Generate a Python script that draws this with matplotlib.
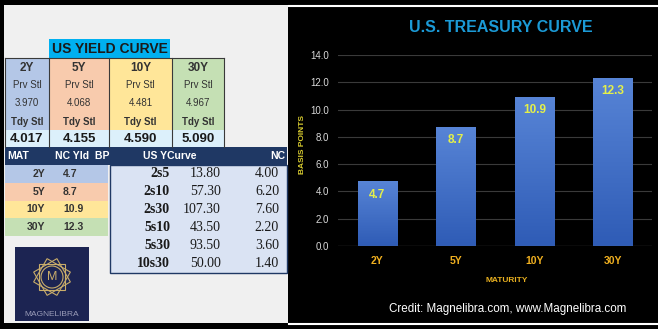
import numpy as np
import matplotlib
matplotlib.use('Agg')
import matplotlib.pyplot as plt
from matplotlib.patches import Rectangle, Polygon, Circle
from matplotlib.colors import LinearSegmentedColormap

# settlement yields and the derived net change (bp)
maturities = ['2Y', '5Y', '10Y', '30Y']
prv_stl = [3.970, 4.068, 4.481, 4.967]
tdy_stl = [4.017, 4.155, 4.590, 5.090]
nc_bp = [4.7, 8.7, 10.9, 12.3]

# curve spreads
spread_names = ['2s5', '2s10', '2s30', '5s10', '5s30', '10s30']
spread_vals = [13.80, 57.30, 107.30, 43.50, 93.50, 50.00]
spread_nc = [4.00, 6.20, 7.60, 2.20, 3.60, 1.40]

y_ticks = [0, 2, 4, 6, 8, 10, 12, 14]

mat_colors = ['#b4c7e7', '#f8cbad', '#ffe699', '#c5e0b4']
NAVY = '#1f3864'
SANS = 'Liberation Sans'
SERIF = 'Liberation Serif'
W, H = 658, 329

fig = plt.figure(figsize=(W / 100, H / 100), dpi=100, facecolor='black')

# full-figure axes in pixel units for the table side
bg = fig.add_axes([0, 0, 1, 1])
bg.set_xlim(0, W)
bg.set_ylim(H, 0)
bg.axis('off')

bg.add_patch(Rectangle((4, 5), 284, 318, facecolor='#f0f0f0', edgecolor='none'))
bg.plot([289, W], [5.5, 5.5], color='white', lw=1.5)
bg.plot([289, W], [323.5, 323.5], color='white', lw=1.5)

# --- upper table: settlements ---
col_edges = [5, 49, 109, 172, 224]
bg.add_patch(Rectangle((49, 39), 121, 19, facecolor='#00b0f0', edgecolor='none'))
bg.text(110, 49, 'US YIELD CURVE', ha='center', va='center', fontsize=10,
        fontweight='bold', family=SANS, color='#1a1a1a')

txt = '#333333'
for i, m in enumerate(maturities):
    x0, x1 = col_edges[i], col_edges[i + 1]
    cx = (x0 + x1) / 2
    bg.add_patch(Rectangle((x0, 58), x1 - x0, 72, facecolor=mat_colors[i], edgecolor='none'))
    bg.add_patch(Rectangle((x0, 130), x1 - x0, 17, facecolor='#dcf0fb', edgecolor='none'))
    bg.text(cx, 68, m, ha='center', va='center', fontsize=8.5, fontweight='bold', family=SANS, color=txt)
    bg.text(cx, 85, 'Prv Stl', ha='center', va='center', fontsize=7, family=SANS, color=txt)
    bg.text(cx, 103, f'{prv_stl[i]:.3f}', ha='center', va='center', fontsize=7, family=SANS, color=txt)
    bg.text(cx, 122, 'Tdy Stl', ha='center', va='center', fontsize=7, fontweight='bold', family=SANS, color=txt)
    bg.text(cx, 138.5, f'{tdy_stl[i]:.3f}', ha='center', va='center', fontsize=9.5, fontweight='bold',
            family=SANS, color='#1a1a1a')
for xe in col_edges:
    bg.plot([xe, xe], [58, 147], color='#3a3a3a', lw=0.8)
bg.plot([5, 224], [58, 58], color='#3a3a3a', lw=0.8)

# --- lower header bar ---
bg.add_patch(Rectangle((5, 147), 282, 18, facecolor=NAVY, edgecolor='none'))
hdr = dict(va='center', fontsize=7.5, fontweight='bold', family=SANS, color='white')
bg.text(7, 156, 'MAT', ha='left', **hdr)
bg.text(55, 156, 'NC Yld  BP', ha='left', **hdr)
bg.text(143, 156, 'US YCurve', ha='left', **hdr)
bg.text(285, 156, 'NC', ha='right', **hdr)

# net change per maturity
row_h = 17.75
for i, m in enumerate(maturities):
    y0 = 165 + i * row_h
    bg.add_patch(Rectangle((5, y0), 103, row_h, facecolor=mat_colors[i], edgecolor='none'))
    bg.text(45, y0 + row_h / 2, m, ha='right', va='center', fontsize=7.5, fontweight='bold', family=SANS, color=txt)
    bg.text(63, y0 + row_h / 2, f'{nc_bp[i]:.1f}', ha='left', va='center', fontsize=7.5, fontweight='bold',
            family=SANS, color=txt)

# spreads box
bg.add_patch(Rectangle((110, 165), 177, 108, facecolor='#dae3f3', edgecolor=NAVY, lw=1))
for i, name in enumerate(spread_names):
    yc = 173.5 + i * 18
    bg.text(170, yc, name, ha='right', va='center', fontsize=10, fontweight='bold', family=SERIF, color='#1a1a1a')
    bg.text(221, yc, f'{spread_vals[i]:.2f}', ha='right', va='center', fontsize=10, family=SERIF, color='#1a1a1a')
    bg.text(279, yc, f'{spread_nc[i]:.2f}', ha='right', va='center', fontsize=10, family=SERIF, color='#1a1a1a')

# logo
gold = '#c9ad6a'
bg.add_patch(Rectangle((15, 247), 74, 74, facecolor='#1c2452', edgecolor='none'))
lcx, lcy, r = 52, 277, 19
for ang in (0, 30, 60):
    t = np.deg2rad(ang + 45 + np.array([0, 90, 180, 270]))
    bg.add_patch(Polygon(np.c_[lcx + r * np.cos(t), lcy + r * np.sin(t)], closed=True,
                         fill=False, edgecolor=gold, lw=0.8))
bg.add_patch(Circle((lcx, lcy), 11, facecolor='#1c2452', edgecolor=gold, lw=0.8))
bg.text(lcx, lcy, 'M', ha='center', va='center', fontsize=9, family=SANS, color=gold)
bg.text(lcx, 315, 'MAGNELIBRA', ha='center', va='center', fontsize=6, family=SANS, color='#9a9cb8')

# --- bar chart ---
ax = fig.add_axes([338 / W, (H - 246) / H, 314 / W, 191 / H])
ax.set_facecolor('none')
x = np.arange(len(maturities))
bars = ax.bar(x, nc_bp, width=0.5, color='#4472c4', zorder=2)

grad_cmap = LinearSegmentedColormap.from_list('bar', ['#2f5cb6', '#5784d6'])
grad = np.linspace(0, 1, 64).reshape(-1, 1)
for b in bars:
    ax.imshow(grad, extent=[b.get_x(), b.get_x() + b.get_width(), 0, b.get_height()],
              origin='lower', cmap=grad_cmap, aspect='auto', zorder=3)

for xi, v in zip(x, nc_bp):
    ax.annotate(f'{v:.1f}', xy=(xi, v), xytext=(0, -13), textcoords='offset pixels',
                ha='center', va='center', fontsize=8.5, fontweight='bold', family=SANS,
                color='#e4f04a', zorder=5)

ax.set_xlim(-0.5, 3.5)
ax.set_ylim(0, 14)
ax.set_yticks(y_ticks)
ax.set_yticklabels([f'{t:.1f}' for t in y_ticks], fontsize=7, family=SANS, color='#d9d9d9')
ax.set_xticks(x)
ax.set_xticklabels(maturities, fontsize=7.5, fontweight='bold', family=SANS, color='#f0b020')
ax.tick_params(axis='y', length=0, pad=6.5)
ax.tick_params(axis='x', length=0, pad=7)
ax.yaxis.grid(True, color='#3a3a3a', lw=0.8, zorder=0)
ax.set_axisbelow(True)
ax.axhline(0, color='#8a8a8a', lw=0.8, zorder=4)
for s in ax.spines.values():
    s.set_visible(False)

bg.text(501, 28, 'U.S. TREASURY CURVE', ha='center', va='center', fontsize=11.5, fontweight='bold',
        family=SANS, color='#1b9ad6')
bg.text(507, 281, 'MATURITY', ha='center', va='center', fontsize=6, fontweight='bold',
        family=SANS, color='#e8b020')
bg.text(302, 144, 'BASIS POINTS', ha='center', va='center', rotation=90, fontsize=6, fontweight='bold',
        family=SANS, color='#d8cc30')
bg.text(508, 309, 'Credit: Magnelibra.com, www.Magnelibra.com', ha='center', va='center', fontsize=8.4,
        family=SANS, color='white')

fig.savefig('out.png', dpi=100, facecolor='black')
